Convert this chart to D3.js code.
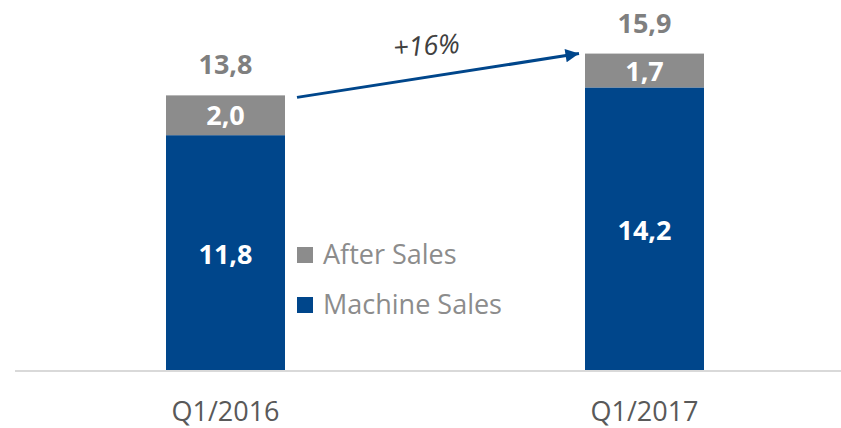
<!DOCTYPE html>
<html>
<head>
<meta charset="utf-8">
<script src="https://cdn.jsdelivr.net/npm/d3@7"></script>
<style>
  body { margin: 0; background: #fff; }
  svg { display: block; font-family: "Open Sans", "Noto Sans", sans-serif; }
</style>
</head>
<body>
<div id="chartArea"></div>
<script>
var categories = ['Q1/2016', 'Q1/2017'];
var machineSales = [11.8, 14.2];
var afterSales = [2.0, 1.7];
var totals = [13.8, 15.9];
var totalLabels = ['13,8', '15,9'];
var machineLabels = ['11,8', '14,2'];
var afterLabels = ['2,0', '1,7'];
var growthLabel = '+16%';
var seriesNames = ['After Sales', 'Machine Sales'];

var width = 841, height = 428;
var blue = '#00468b', grey = '#8c8c8c';

var svg = d3.select('#chartArea').append('svg')
    .attr('width', width)
    .attr('height', height);

var xscale = d3.scaleBand().domain(categories)
    .range([166, 704]).paddingInner(0.716).paddingOuter(0);
var yscale = d3.scaleLinear().domain([0, 16]).range([370, 51.6]);

var data = categories.map(function (c, i) {
    return {cat: c, machine: machineSales[i], after: afterSales[i], total: totals[i],
            tl: totalLabels[i], ml: machineLabels[i], al: afterLabels[i]};
});

// baseline
svg.append('line')
    .attr('x1', 15).attr('x2', width)
    .attr('y1', 371).attr('y2', 371)
    .attr('stroke', '#d9d9d9').attr('stroke-width', 2);

var bars = svg.append('g').selectAll('g').data(data).enter().append('g');

bars.append('rect')
    .attr('x', function (d) { return xscale(d.cat); })
    .attr('y', function (d) { return yscale(d.machine); })
    .attr('width', xscale.bandwidth())
    .attr('height', function (d) { return yscale(0) - yscale(d.machine); })
    .attr('fill', blue);

bars.append('rect')
    .attr('x', function (d) { return xscale(d.cat); })
    .attr('y', function (d) { return yscale(d.machine + d.after); })
    .attr('width', xscale.bandwidth())
    .attr('height', function (d) { return yscale(d.machine) - yscale(d.machine + d.after); })
    .attr('fill', grey);

var cx = function (d) { return xscale(d.cat) + xscale.bandwidth() / 2; };

bars.append('text')
    .attr('x', cx)
    .attr('y', function (d) { return (yscale(0) + yscale(d.machine)) / 2 + 11; })
    .attr('text-anchor', 'middle')
    .style('font-size', '27px').style('font-weight', 'bold')
    .attr('fill', '#fff')
    .text(function (d) { return d.ml; });

bars.append('text')
    .attr('x', cx)
    .attr('y', function (d) { return (yscale(d.machine) + yscale(d.machine + d.after)) / 2 + 10; })
    .attr('text-anchor', 'middle')
    .style('font-size', '27px').style('font-weight', 'bold')
    .attr('fill', '#fff')
    .text(function (d) { return d.al; });

bars.append('text')
    .attr('x', cx)
    .attr('y', function (d) { return yscale(d.total) - 21; })
    .attr('text-anchor', 'middle')
    .style('font-size', '27px').style('font-weight', 'bold')
    .attr('fill', '#7f7f7f')
    .text(function (d) { return d.tl; });

// category labels
bars.append('text')
    .attr('x', cx)
    .attr('y', 421)
    .attr('text-anchor', 'middle')
    .style('font-size', '27px')
    .attr('fill', '#595959')
    .text(function (d) { return d.cat; });

// growth arrow
svg.append('defs').append('marker')
    .attr('id', 'arrow')
    .attr('viewBox', '0 0 10 10')
    .attr('refX', 10).attr('refY', 5)
    .attr('markerWidth', 5.5).attr('markerHeight', 4.5)
    .attr('markerUnits', 'strokeWidth')
    .attr('orient', 'auto')
    .append('path').attr('d', 'M0,0 L10,5 L0,10 Z').attr('fill', blue);

var x1 = xscale(categories[0]) + xscale.bandwidth() + 12;
var y1 = yscale(totals[0]) + 2;
var x2 = xscale(categories[1]) - 6;
var y2 = yscale(totals[1]);
svg.append('line')
    .attr('x1', x1).attr('y1', y1)
    .attr('x2', x2).attr('y2', y2)
    .attr('stroke', blue).attr('stroke-width', 3)
    .attr('marker-end', 'url(#arrow)');

svg.append('text')
    .attr('transform', 'translate(427,55) rotate(-4)')
    .attr('text-anchor', 'middle')
    .style('font-size', '27px').style('font-style', 'italic')
    .attr('fill', '#404040')
    .text(growthLabel);

// legend
var legend = svg.append('g').selectAll('g').data(seriesNames).enter().append('g')
    .attr('transform', function (d, i) { return 'translate(297,' + (247 + i * 50) + ')'; });
legend.append('rect')
    .attr('width', 16).attr('height', 16)
    .attr('fill', function (d, i) { return i === 0 ? grey : blue; });
legend.append('text')
    .attr('x', 26).attr('y', 17)
    .style('font-size', '27px')
    .attr('fill', '#8c8c8c')
    .text(function (d) { return d; });
</script>
</body>
</html>
